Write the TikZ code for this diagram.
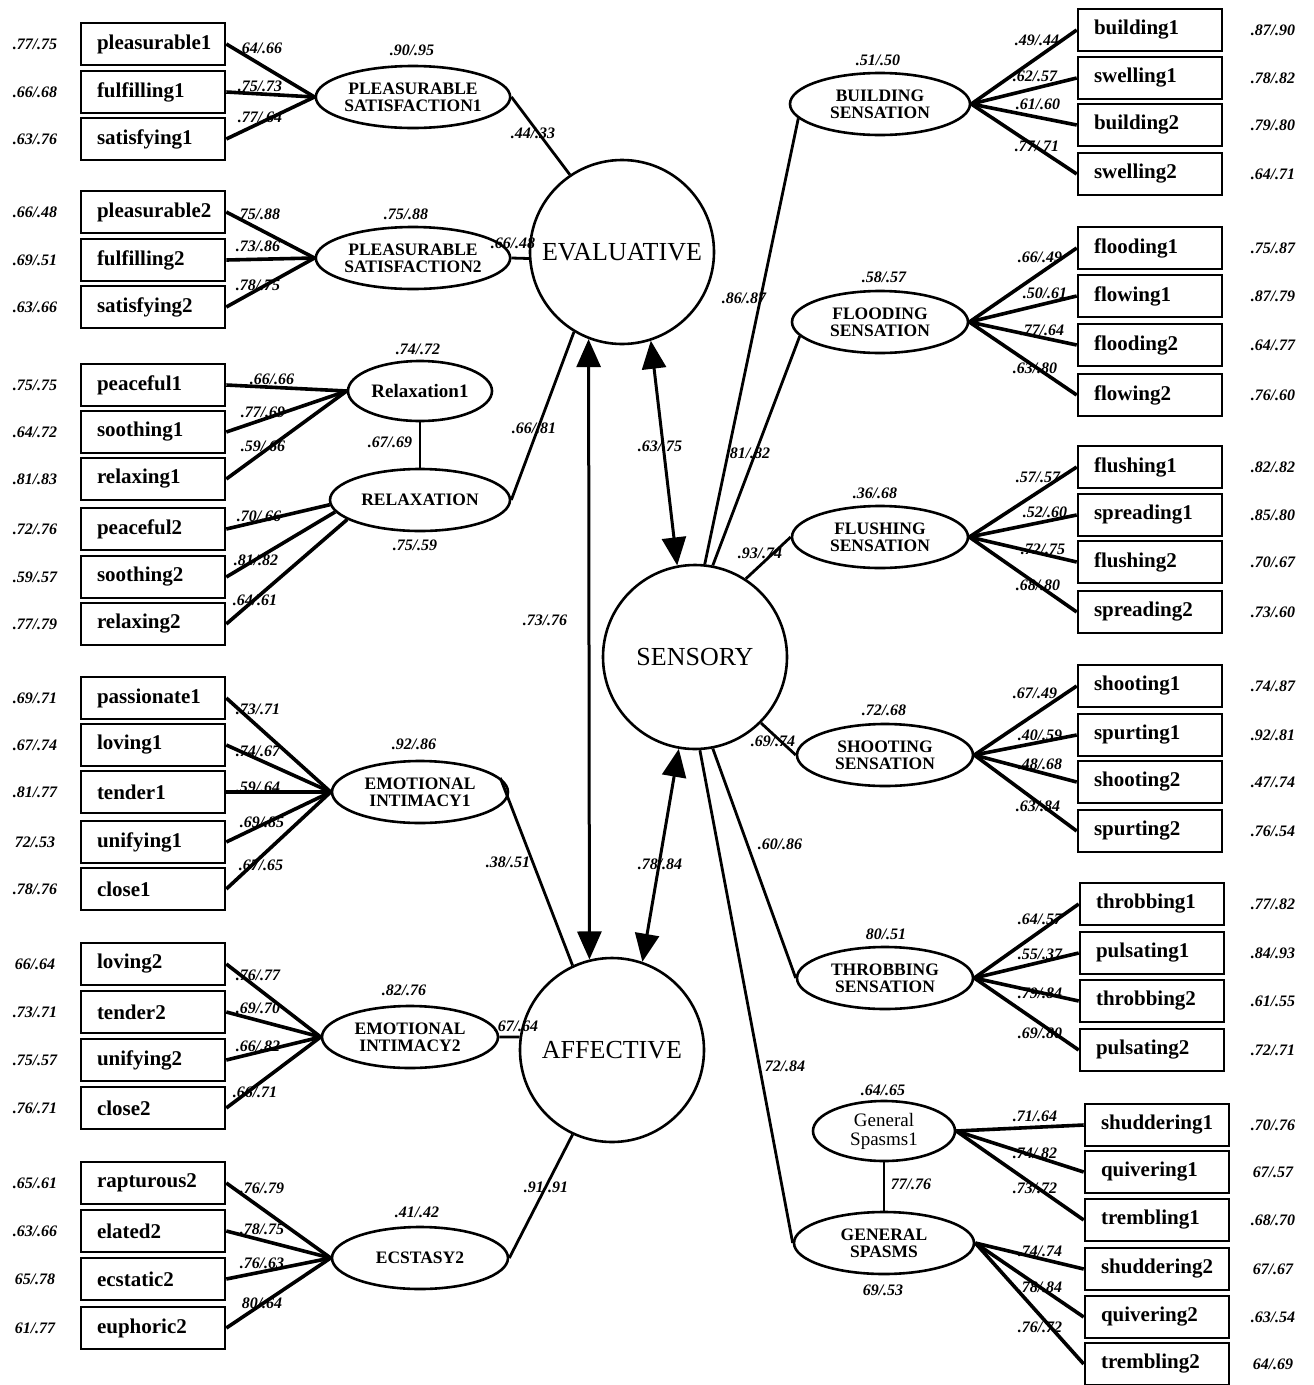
\documentclass[tikz,border=0pt]{standalone}
\usepackage{fontspec}
\setmainfont{Liberation Serif}
\usetikzlibrary{shapes.geometric,arrows.meta}
\newcommand\obsL[4]{\node[obs] (#1) at (153,#2) {#3}; \node[num] (#1r) at (35,#2) {#4};}
\newcommand\obsR[5]{\node[obs] (#1) at (#2,#3) {#4}; \node[num] (#1r) at (1273,#3) {#5};}
\begin{document}
\begin{tikzpicture}[x=1pt,y=-1pt,
 obs/.style={draw, line width=2.6pt, minimum height=42pt, text width=112pt, inner xsep=16pt, align=left, font=\fontsize{21}{22}\selectfont\bfseries},
 lat/.style={draw, ellipse, line width=2.6pt, minimum width=180pt, minimum height=62pt, inner sep=0pt, align=center, font=\fontsize{17.5}{17}\selectfont\bfseries},
 big/.style={draw, circle, line width=2.6pt, minimum size=184pt, inner sep=0pt, font=\fontsize{26}{28}\selectfont},
 num/.style={font=\fontsize{16}{17}\selectfont\bfseries\itshape, inner sep=0pt},
 ld/.style={line width=3.6pt},
 st/.style={line width=2.8pt},
 dbl/.style={line width=3pt, {Triangle[length=28pt,width=24pt]}-{Triangle[length=28pt,width=24pt]}}]
\fill[white] (0,0) rectangle (1314,1385);
\useasboundingbox (0,0) rectangle (1314,1385);

% big circles
\node[big] (eval) at (622,252) {EVALUATIVE};
\node[big] (sens) at (695,657) {SENSORY};
\node[big] (aff) at (612,1050) {AFFECTIVE};

% ---------- left group 1
\obsL{pl1}{44}{pleasurable1}{.77/.75}
\obsL{fu1}{92}{fulfilling1}{.66/.68}
\obsL{sa1}{139}{satisfying1}{.63/.76}
\node[lat] (ps1) at (413,97) {PLEASURABLE\\SATISFACTION1};
\node[num] (ps1v) at (412,50) {.90/.95};
\draw[ld] (pl1.east) -- (ps1.west);
\draw[ld] (fu1.east) -- (ps1.west);
\draw[ld] (sa1.east) -- (ps1.west);
\node[num] (l11) at (260,48) {.64/.66};
\node[num] (l12) at (260,86) {.75/.73};
\node[num] (l13) at (260,117) {.77/.64};
\draw[st] (ps1.east) -- (eval.124);
\node[num] (ps1e) at (533,133) {.44/.33};

% ---------- left group 2
\obsL{pl2}{212}{pleasurable2}{.66/.48}
\obsL{fu2}{260}{fulfilling2}{.69/.51}
\obsL{sa2}{307}{satisfying2}{.63/.66}
\node[lat] (ps2) at (413,258) {PLEASURABLE\\SATISFACTION2};
\node[num] (ps2v) at (406,214) {.75/.88};
\draw[ld] (pl2.east) -- (ps2.west);
\draw[ld] (fu2.east) -- (ps2.west);
\draw[ld] (sa2.east) -- (ps2.west);
\node[num] (l21) at (258,214) {.75/.88};
\node[num] (l22) at (258,246) {.73/.86};
\node[num] (l23) at (258,285) {.78/.75};
\draw[st] (ps2.east) -- (eval.184);
\node[num] (ps2e) at (513,243) {.66/.48};

% ---------- relaxation
\obsL{pe1}{385}{peaceful1}{.75/.75}
\obsL{so1}{432}{soothing1}{.64/.72}
\obsL{re1}{479}{relaxing1}{.81/.83}
\obsL{pe2}{529}{peaceful2}{.72/.76}
\obsL{so2}{577}{soothing2}{.59/.57}
\obsL{re2}{624}{relaxing2}{.77/.79}
\node[lat, minimum width=144pt, minimum height=60pt, font=\fontsize{19}{20}\selectfont\bfseries] (rx1) at (420,391) {Relaxation1};
\node[lat] (rlx) at (420,500) {RELAXATION};
\node[num] (rx1v) at (418,349) {.74/.72};
\node[num] (rxc) at (390,442) {.67/.69};
\node[num] (rlxv) at (415,545) {.75/.59};
\draw[ld] (pe1.east) -- (rx1.west);
\draw[ld] (so1.east) -- (rx1.west);
\draw[ld] (re1.east) -- (rx1.west);
\draw[ld] (pe2.east) -- (rlx.183);
\draw[ld] (so2.east) -- (rlx.188);
\draw[ld] (re2.east) -- (rlx.195);
\node[num] (l31) at (272,379) {.66/.66};
\node[num] (l32) at (263,412) {.77/.69};
\node[num] (l33) at (263,446) {.59/.66};
\node[num] (l34) at (259,516) {.70/.66};
\node[num] (l35) at (256,560) {.81/.82};
\node[num] (l36) at (255,600) {.64/.61};
\draw[st] (rx1.south) -- (rlx.north);
\draw[st] (rlx.east) -- (eval.239);
\node[num] (rlxe) at (534,428) {.66/.81};

% ---------- emotional intimacy 1
\obsL{pa1}{698}{passionate1}{.69/.71}
\obsL{lo1}{745}{loving1}{.67/.74}
\obsL{te1}{792}{tender1}{.81/.77}
\obsL{un1}{842}{unifying1}{72/.53}
\obsL{cl1}{889}{close1}{.78/.76}
\node[lat, minimum width=176pt] (ei1) at (420,792) {EMOTIONAL\\INTIMACY1};
\node[num] (ei1v) at (414,744) {.92/.86};
\draw[ld] (pa1.east) -- (ei1.west);
\draw[ld] (lo1.east) -- (ei1.west);
\draw[ld] (te1.east) -- (ei1.west);
\draw[ld] (un1.east) -- (ei1.west);
\draw[ld] (cl1.east) -- (ei1.west);
\node[num] (l41) at (258,709) {.73/.71};
\node[num] (l42) at (258,751) {.74/.67};
\node[num] (l43) at (258,787) {.59/.64};
\node[num] (l44) at (262,822) {.69/.85};
\node[num] (l45) at (261,865) {.67/.65};
\draw[st] (ei1.10) -- (aff.115);
\node[num] (ei1e) at (508,862) {.38/.51};

% ---------- emotional intimacy 2
\obsL{lo2}{964}{loving2}{66/.64}
\obsL{te2}{1012}{tender2}{.73/.71}
\obsL{un2}{1060}{unifying2}{.75/.57}
\obsL{cl2}{1108}{close2}{.76/.71}
\node[lat, minimum width=176pt] (ei2) at (410,1037) {EMOTIONAL\\INTIMACY2};
\node[num] (ei2v) at (404,990) {.82/.76};
\draw[ld] (lo2.east) -- (ei2.west);
\draw[ld] (te2.east) -- (ei2.west);
\draw[ld] (un2.east) -- (ei2.west);
\draw[ld] (cl2.east) -- (ei2.west);
\node[num] (l51) at (258,975) {.76/.77};
\node[num] (l52) at (258,1008) {.69/.70};
\node[num] (l53) at (258,1046) {.66/.82};
\node[num] (l54) at (255,1092) {.66/.71};
\draw[st] (ei2.east) -- (aff.172);
\node[num] (ei2e) at (516,1026) {.67/.64};

% ---------- ecstasy
\obsL{ra2}{1183}{rapturous2}{.65/.61}
\obsL{el2}{1231}{elated2}{.63/.66}
\obsL{ec2}{1279}{ecstatic2}{65/.78}
\obsL{eu2}{1328}{euphoric2}{61/.77}
\node[lat, minimum width=176pt] (ecs) at (420,1258) {ECSTASY2};
\node[num] (ecsv) at (417,1212) {.41/.42};
\draw[ld] (ra2.east) -- (ecs.west);
\draw[ld] (el2.east) -- (ecs.west);
\draw[ld] (ec2.east) -- (ecs.west);
\draw[ld] (eu2.east) -- (ecs.west);
\node[num] (l61) at (262,1188) {.76/.79};
\node[num] (l62) at (262,1229) {.78/.75};
\node[num] (l63) at (262,1263) {.76/.63};
\node[num] (l64) at (262,1303) {80/.64};
\draw[st] (ecs.east) -- (aff.245);
\node[num] (ecse) at (546,1187) {.91/.91};

% ---------- correlations
\draw[dbl] (eval.249) -- (aff.104);
\node[num] (cea) at (545,620) {.73/.76};
\draw[dbl] (eval.288) -- (sens.101);
\node[num] (ces) at (660,446) {.63/.75};
\draw[dbl] (sens.260) -- (aff.71);
\node[num] (csa) at (660,864) {.78/.84};

% ---------- right ellipses
\node[lat] (bld) at (880,104) {BUILDING\\SENSATION};
\node[num] (bldv) at (878,60) {.51/.50};
\node[lat, minimum width=176pt] (flo) at (880,322) {FLOODING\\SENSATION};
\node[num] (flov) at (884,277) {.58/.57};
\node[lat, minimum width=176pt] (flu) at (880,537) {FLUSHING\\SENSATION};
\node[num] (fluv) at (875,493) {.36/.68};
\node[lat, minimum width=176pt] (sho) at (885,755) {SHOOTING\\SENSATION};
\node[num] (shov) at (884,710) {.72/.68};
\node[lat, minimum width=176pt] (thr) at (885,978) {THROBBING\\SENSATION};
\node[num] (thrv) at (886,934) {80/.51};
\node[lat, minimum width=142pt, minimum height=60pt, font=\fontsize{19}{19}\selectfont] (gs1) at (884,1131) {General\\Spasms1};
\node[num] (gs1v) at (883,1090) {.64/.65};
\node[lat] (gs) at (884,1243) {GENERAL\\SPASMS};
\node[num] (gsv) at (883,1290) {69/.53};
\draw[st] (gs1.south) -- (gs.north);
\node[num] (gsc) at (911,1184) {77/.76};

\draw[st] (sens.84) -- (bld.190);
\node[num] (sbld) at (744,298) {.86/.87};
\draw[st] (sens.79) -- (flo.190);
\node[num] (sflo) at (748,453) {.81/.82};
\draw[st] (sens.57) -- (flu.west);
\node[num] (sflu) at (760,553) {.93/.74};
\draw[st] (sens.315) -- (sho.west);
\node[num] (ssho) at (773,741) {.69/.74};
\draw[st] (sens.281) -- (thr.west);
\node[num] (sthr) at (780,844) {.60/.86};
\draw[st] (sens.273) -- (gs.west);
\node[num] (sgs) at (785,1066) {72/.84};

% ---------- right boxes
\obsR{bu1}{1150}{30}{building1}{.87/.90}
\obsR{sw1}{1150}{78}{swelling1}{.78/.82}
\obsR{bu2}{1150}{125}{building2}{.79/.80}
\obsR{sw2}{1150}{174}{swelling2}{.64/.71}
\obsR{fl1}{1150}{248}{flooding1}{.75/.87}
\obsR{fw1}{1150}{296}{flowing1}{.87/.79}
\obsR{fl2}{1150}{345}{flooding2}{.64/.77}
\obsR{fw2}{1150}{395}{flowing2}{.76/.60}
\obsR{fs1}{1150}{467}{flushing1}{.82/.82}
\obsR{sp1}{1150}{515}{spreading1}{.85/.80}
\obsR{fs2}{1150}{562}{flushing2}{.70/.67}
\obsR{sp2}{1150}{612}{spreading2}{.73/.60}
\obsR{sh1}{1150}{686}{shooting1}{.74/.87}
\obsR{su1}{1150}{735}{spurting1}{.92/.81}
\obsR{sh2}{1150}{782}{shooting2}{.47/.74}
\obsR{su2}{1150}{831}{spurting2}{.76/.54}
\obsR{tb1}{1152}{904}{throbbing1}{.77/.82}
\obsR{pu1}{1152}{953}{pulsating1}{.84/.93}
\obsR{tb2}{1152}{1001}{throbbing2}{.61/.55}
\obsR{pu2}{1152}{1050}{pulsating2}{.72/.71}
\obsR{sd1}{1157}{1125}{shuddering1}{.70/.76}
\obsR{qu1}{1157}{1172}{quivering1}{67/.57}
\obsR{tr1}{1157}{1220}{trembling1}{.68/.70}
\obsR{sd2}{1157}{1269}{shuddering2}{67/.67}
\obsR{qu2}{1157}{1317}{quivering2}{.63/.54}
\obsR{tr2}{1157}{1364}{trembling2}{64/.69}

\foreach \b in {bu1,sw1,bu2,sw2} \draw[ld] (bld.east) -- (\b.west);
\foreach \b in {fl1,fw1,fl2,fw2} \draw[ld] (flo.east) -- (\b.west);
\foreach \b in {fs1,sp1,fs2,sp2} \draw[ld] (flu.east) -- (\b.west);
\foreach \b in {sh1,su1,sh2,su2} \draw[ld] (sho.east) -- (\b.west);
\foreach \b in {tb1,pu1,tb2,pu2} \draw[ld] (thr.east) -- (\b.west);
\foreach \b in {sd1,qu1,tr1} \draw[ld] (gs1.east) -- (\b.west);
\foreach \b in {sd2,qu2,tr2} \draw[ld] (gs.east) -- (\b.west);

\node[num] (r11) at (1037,40) {.49/.44};
\node[num] (r12) at (1035,76) {.62/.57};
\node[num] (r13) at (1038,104) {.61/.60};
\node[num] (r14) at (1037,146) {.77/.71};
\node[num] (r21) at (1040,257) {.66/.49};
\node[num] (r22) at (1045,293) {.50/.61};
\node[num] (r23) at (1042,330) {.77/.64};
\node[num] (r24) at (1035,368) {.63/.80};
\node[num] (r31) at (1038,477) {.57/.57};
\node[num] (r32) at (1045,512) {.52/.60};
\node[num] (r33) at (1043,549) {.72/.75};
\node[num] (r34) at (1038,585) {.68/.80};
\node[num] (r41) at (1035,693) {.67/.49};
\node[num] (r42) at (1040,735) {.40/.59};
\node[num] (r43) at (1040,764) {.48/.68};
\node[num] (r44) at (1038,806) {.63/.84};
\node[num] (r51) at (1040,919) {.64/.57};
\node[num] (r52) at (1040,954) {.55/.37};
\node[num] (r53) at (1040,993) {.79/.84};
\node[num] (r54) at (1040,1033) {.69/.80};
\node[num] (r61) at (1035,1116) {.71/.64};
\node[num] (r62) at (1035,1153) {.74/.82};
\node[num] (r63) at (1035,1188) {.73/.72};
\node[num] (r64) at (1040,1251) {.74/.74};
\node[num] (r65) at (1040,1287) {.78/.84};
\node[num] (r66) at (1040,1327) {.76/.72};
\end{tikzpicture}
\end{document}
